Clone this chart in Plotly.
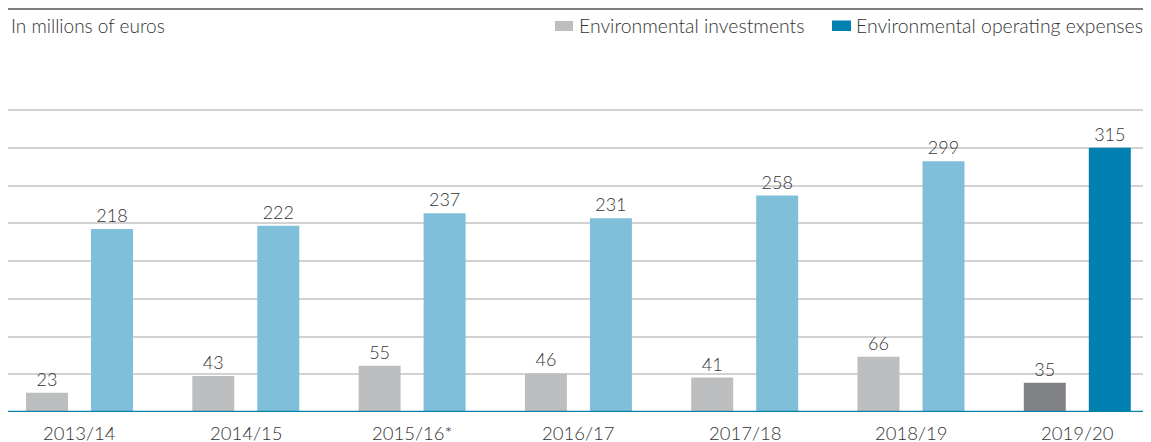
import plotly.graph_objects as go

categories = ["2013/14", "2014/15", "2015/16*", "2016/17", "2017/18", "2018/19", "2019/20"]
investments = [23, 43, 55, 46, 41, 66, 35]
operating = [218, 222, 237, 231, 258, 299, 315]
y_ticks = [0, 45, 90, 135, 180, 225, 270, 315, 360]

inv_colors = ["#bdbec0"] * 6 + ["#808285"]
op_colors = ["#80bfd9"] * 6 + ["#0080b0"]

FONT = "Lato"
TXT = "#333333"
CAT_PX = 166.3
bw = 42 / CAT_PX
xpos = list(range(len(categories)))

# page body has an 8px margin; figure sized to fit the window
OX, OY = 8, 8
W, H = 1143, 434
PL, PR, PT, PB = 8, 1145, 105, 412  # plot area in screen pixels
L, R = PL - OX, W - (PR - OX)
T, B = PT - OY, H - (PB - OY)
pw = PR - PL
ph = PB - PT
YMAX = 360 * ph / 302.0  # 360 gridline sits at screen y=110


def px_x(x):
    return (x - PL) / pw


def px_y(y):
    return (PB - y) / ph


fig = go.Figure()
fig.add_trace(go.Bar(
    x=xpos, y=investments, name="Environmental investments",
    marker=dict(color=inv_colors, line=dict(width=0)),
    width=bw, offset=-53.5 / CAT_PX,
    text=[str(v) for v in investments], textposition="outside",
    textfont=dict(family=FONT, size=18, color=TXT, weight=300), cliponaxis=False,
    showlegend=False, hovertext=categories,
))
fig.add_trace(go.Bar(
    x=xpos, y=operating, name="Environmental operating expenses",
    marker=dict(color=op_colors, line=dict(width=0)),
    width=bw, offset=11.5 / CAT_PX,
    text=[str(v) for v in operating], textposition="outside",
    textfont=dict(family=FONT, size=18, color=TXT, weight=300), cliponaxis=False,
    showlegend=False, hovertext=categories,
))

shapes = [
    dict(type="line", xref="paper", yref="paper", x0=px_x(8), x1=px_x(1151),
         y0=px_y(9), y1=px_y(9), line=dict(color="#555555", width=1.5)),
    dict(type="rect", xref="paper", yref="paper", x0=px_x(555), x1=px_x(573),
         y0=px_y(31), y1=px_y(21), fillcolor="#bdbec0", line=dict(width=0)),
    dict(type="rect", xref="paper", yref="paper", x0=px_x(832), x1=px_x(851),
         y0=px_y(31), y1=px_y(20.5), fillcolor="#0080b0", line=dict(width=0)),
    dict(type="line", xref="paper", yref="y", x0=0, x1=1, y0=0, y1=0,
         line=dict(color="#0a7fa8", width=2.5)),
]

title_font = dict(family=FONT, size=19, color=TXT, weight=300)
leg_font = dict(family=FONT, size=19.4, color=TXT, weight=300)
tick_font = dict(family=FONT, size=18.5, color=TXT, weight=300)
annotations = [
    dict(text="In millions of euros", xref="paper", yref="paper", x=px_x(9), y=px_y(25),
         xanchor="left", yanchor="middle", showarrow=False, font=title_font),
    dict(text="Environmental investments", xref="paper", yref="paper", x=px_x(577), y=px_y(25),
         xanchor="left", yanchor="middle", showarrow=False, font=leg_font),
    dict(text="Environmental operating expenses", xref="paper", yref="paper", x=px_x(854), y=px_y(25),
         xanchor="left", yanchor="middle", showarrow=False, font=leg_font),
]
# category labels under each group, positioned on the x scale
for xi, cat in zip(xpos, categories):
    annotations.append(dict(
        text=cat, xref="x", yref="paper", x=xi, y=px_y(433),
        xanchor="center", yanchor="middle", showarrow=False, font=tick_font,
    ))

fig.update_layout(
    width=W, height=H,
    margin=dict(l=L, r=R, t=T, b=B, pad=0, autoexpand=False),
    plot_bgcolor="white", paper_bgcolor="white",
    barmode="overlay",
    font=dict(family=FONT, size=18, color=TXT),
    shapes=shapes, annotations=annotations,
    xaxis=dict(
        type="linear", range=[(PL - 79.5) / CAT_PX, (PR - 79.5) / CAT_PX],
        tickmode="array", tickvals=xpos, ticktext=categories, showticklabels=False,
        showgrid=False, zeroline=False, showline=False, automargin=False,
    ),
    yaxis=dict(
        range=[0, YMAX], tickvals=y_ticks, showticklabels=False, automargin=False,
        showgrid=True, gridcolor="#d2d2d2", gridwidth=1.5,
        zeroline=False, showline=False,
    ),
)

fig.write_html("out.html")
